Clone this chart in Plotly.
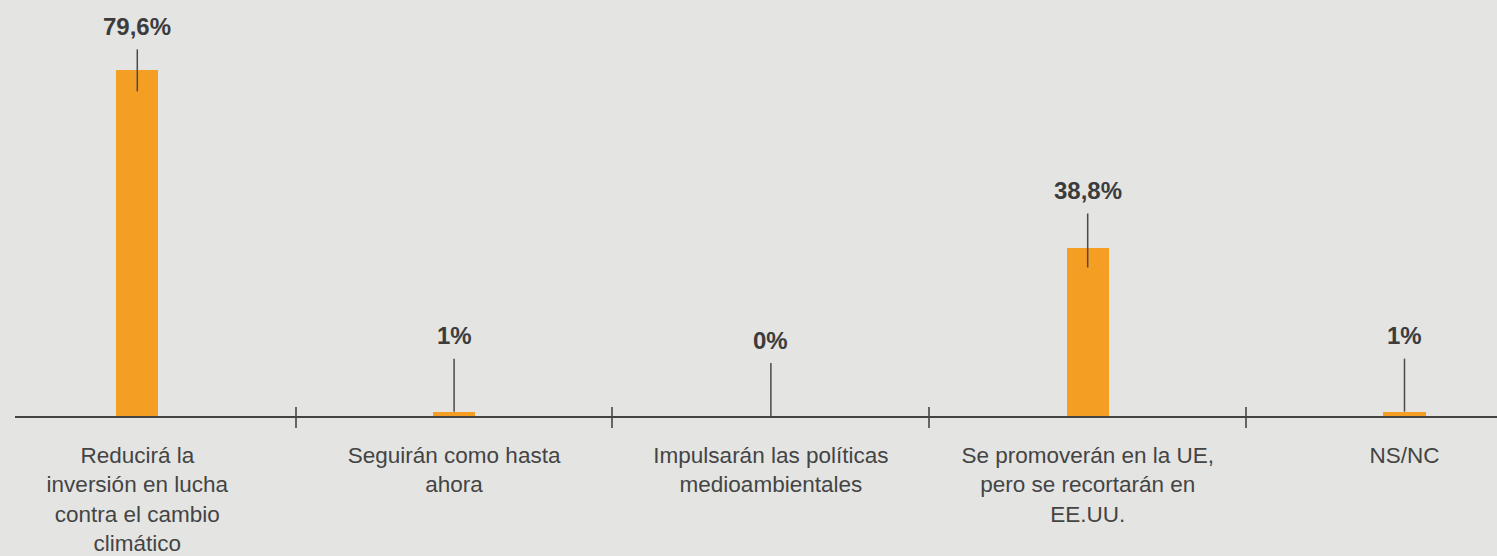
import plotly.graph_objects as go

categories = [
    "Reducirá la<br>inversión en lucha<br>contra el cambio<br>climático",
    "Seguirán como hasta<br>ahora",
    "Impulsarán las políticas<br>medioambientales",
    "Se promoverán en la UE,<br>pero se recortarán en<br>EE.UU.",
    "NS/NC",
]
values = [79.6, 1, 0, 38.8, 1]
value_labels = ["79,6%", "1%", "0%", "38,8%", "1%"]

BG = "#e4e4e3"
ORANGE = "#f59e24"
TEXT = "#3c3c3c"

fig = go.Figure()
fig.add_trace(go.Bar(
    x=categories, y=values, marker=dict(color=ORANGE, line=dict(width=0)),
    width=0.1326, showlegend=False, hoverinfo="skip",
))
# helper trace for the secondary (tick-only) x axis
fig.add_trace(go.Scatter(
    x=categories, y=values, xaxis="x2", mode="markers",
    marker=dict(opacity=0), showlegend=False, hoverinfo="skip",
))

shapes = []
annotations = []
for i, (v, lab) in enumerate(zip(values, value_labels)):
    if v > 50:
        below, above = 21, 21
    elif v > 10:
        below, above = 20, 34
    else:
        below, above = 0, 53
    shapes.append(dict(
        type="line", xref="x", yref="y", x0=i, x1=i,
        ysizemode="pixel", yanchor=v, y0=-below, y1=above,
        line=dict(color="#4a4a4a", width=1.5), layer="above",
    ))
    annotations.append(dict(
        x=i, y=v, xref="x", yref="y", text=f"<b>{lab}</b>", showarrow=False,
        yanchor="middle", yshift=above + 23,
        font=dict(family="Liberation Sans, Arial, sans-serif", size=24, color=TEXT),
    ))

xr = [-0.386, 4.292]
fig.update_layout(
    width=1497, height=556, autosize=False,
    margin=dict(l=15, r=0, t=0, b=137),
    paper_bgcolor=BG, plot_bgcolor=BG,
    shapes=shapes, annotations=annotations,
    font=dict(family="Liberation Sans, Arial, sans-serif", size=22.5, color="#444444"),
    bargap=0,
    xaxis=dict(
        type="category", range=xr, showline=True, linecolor="#444444", linewidth=2,
        tickson="boundaries", ticks="outside", ticklen=10, tickwidth=1.5, tickcolor="#666666",
        showgrid=False, zeroline=False, ticklabelstandoff=18,
        tickfont=dict(size=22.5, color="#444444"),
    ),
    xaxis2=dict(
        type="category", range=xr, overlaying="x", anchor="y", side="bottom",
        tickson="boundaries", ticks="inside", ticklen=9, tickwidth=1.5, tickcolor="#666666",
        showticklabels=False, showgrid=False, showline=False, zeroline=False,
    ),
    yaxis=dict(range=[0, 95.8], visible=False, showgrid=False, zeroline=False),
)

fig.write_html("out.html")
